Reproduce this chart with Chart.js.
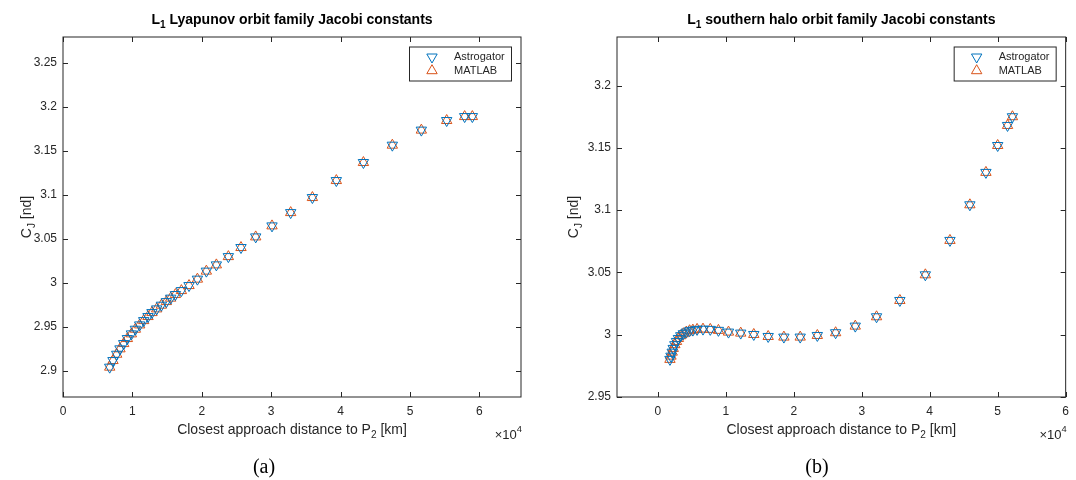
<!DOCTYPE html>
<html lang="en">
<head>
    <meta charset="UTF-8">
    <script src="https://cdn.jsdelivr.net/npm/chart.js@4.4.0/dist/chart.umd.min.js"></script>
    <title>Jacobi constants</title>
    <style>
        body { margin: 0; background: #fff; }
        canvas { position: absolute; top: 0; }
        #lyapChart { left: 0; }
        #haloChart { left: 540px; }
    </style>
</head>
<body>

    <canvas id="lyapChart" width="540" height="480"></canvas>
    <canvas id="haloChart" width="536" height="480"></canvas>

    <script>
        // ===== data (distances in km) =====
        const lyapDist = [6730, 7200, 7740, 8210, 8750, 9280, 9860, 10430, 11050, 11630, 12250, 12820, 13500, 14180, 14900, 15520, 16200, 17060, 18160, 19370, 20660, 22100, 23830, 25650, 27770, 30120, 32810, 35940, 39390, 43290, 47460, 51640, 55290, 57880, 58990];
        const lyapCjAstrogator = [2.9039, 2.9114, 2.9186, 2.9247, 2.9307, 2.9364, 2.9417, 2.9470, 2.9519, 2.9568, 2.9614, 2.9659, 2.9701, 2.9743, 2.9784, 2.9823, 2.9864, 2.9909, 2.9966, 3.0039, 3.0130, 3.0201, 3.0295, 3.0398, 3.0519, 3.0644, 3.0795, 3.0966, 3.1159, 3.1364, 3.1561, 3.1732, 3.1841, 3.1886, 3.1886];
        const lyapCjMatlab = [2.9039, 2.9114, 2.9186, 2.9247, 2.9307, 2.9364, 2.9417, 2.9470, 2.9519, 2.9568, 2.9614, 2.9659, 2.9701, 2.9743, 2.9784, 2.9823, 2.9864, 2.9909, 2.9966, 3.0039, 3.0130, 3.0201, 3.0295, 3.0398, 3.0519, 3.0644, 3.0795, 3.0966, 3.1159, 3.1364, 3.1561, 3.1732, 3.1841, 3.1886, 3.1886];

        const haloDist = [1790, 1940, 2120, 2270, 2510, 2750, 3030, 3380, 3760, 4190, 4680, 5160, 5780, 6650, 7720, 8920, 10400, 12200, 14120, 16240, 18550, 20950, 23470, 26160, 29050, 32180, 35610, 39360, 42980, 45910, 48270, 50000, 51450, 52170];
        const haloCjAstrogator = [2.9802, 2.9828, 2.9860, 2.9890, 2.9920, 2.9946, 2.9970, 2.9992, 3.0008, 3.0021, 3.0032, 3.0037, 3.0043, 3.0045, 3.0043, 3.0035, 3.0021, 3.0013, 3.0002, 2.9986, 2.9981, 2.9981, 2.9994, 3.0016, 3.0069, 3.0144, 3.0275, 3.0481, 3.0757, 3.1043, 3.1303, 3.1519, 3.1680, 3.1750];
        const haloCjMatlab = [2.9802, 2.9828, 2.9860, 2.9890, 2.9920, 2.9946, 2.9970, 2.9992, 3.0008, 3.0021, 3.0032, 3.0037, 3.0043, 3.0045, 3.0043, 3.0035, 3.0021, 3.0013, 3.0002, 2.9986, 2.9981, 2.9981, 2.9994, 3.0016, 3.0069, 3.0144, 3.0275, 3.0481, 3.0757, 3.1043, 3.1303, 3.1519, 3.1680, 3.1750];

        // tick labels (x in units of 1e4 km)
        const xTicks = [0, 1, 2, 3, 4, 5, 6];
        const lyapYTicks = [2.9, 2.95, 3, 3.05, 3.1, 3.15, 3.2, 3.25];
        const haloYTicks = [2.95, 3, 3.05, 3.1, 3.15, 3.2];

        const seriesNames = ['Astrogator', 'MATLAB'];

        const BLUE = '#0072BD';
        const ORANGE = '#D95319';
        const AXIS = '#262626';
        const SANS = '"Liberation Sans", Arial, sans-serif';

        // draws text made of pieces, some of them sub/superscript
        function richText(ctx, parts, x, y, size, weight, align) {
            let total = 0;
            const widths = parts.map(p => {
                ctx.font = weight + ' ' + (p[1] ? size * 0.72 : size) + 'px ' + SANS;
                const w = ctx.measureText(p[0]).width;
                total += w;
                return w;
            });
            let cx = x;
            if (align === 'center') cx = x - total / 2;
            if (align === 'right') cx = x - total;
            ctx.textAlign = 'left';
            ctx.textBaseline = 'middle';
            parts.forEach((p, i) => {
                ctx.font = weight + ' ' + (p[1] ? size * 0.72 : size) + 'px ' + SANS;
                let dy = 0;
                if (p[1] === 'sub') dy = size * 0.38;
                if (p[1] === 'sup') dy = -size * 0.42;
                ctx.fillText(p[0], cx, y + dy);
                cx += widths[i];
            });
        }

        // matlab style box, inward ticks, legend, labels
        const matlabBox = {
            id: 'matlabBox',
            afterDraw(chart, args, opts) {
                const ctx = chart.ctx;
                const a = chart.chartArea;
                const xs = chart.scales.x, ys = chart.scales.y;
                ctx.save();
                ctx.strokeStyle = AXIS;
                ctx.lineWidth = 1;
                ctx.strokeRect(a.left, a.top, a.right - a.left, a.bottom - a.top);

                ctx.beginPath();
                xs.ticks.forEach(t => {
                    const px = Math.round(xs.getPixelForValue(t.value)) + 0.5;
                    ctx.moveTo(px, a.bottom); ctx.lineTo(px, a.bottom - 5);
                    ctx.moveTo(px, a.top); ctx.lineTo(px, a.top + 5);
                });
                ys.ticks.forEach(t => {
                    const py = Math.round(ys.getPixelForValue(t.value)) + 0.5;
                    ctx.moveTo(a.left, py); ctx.lineTo(a.left + 5, py);
                    ctx.moveTo(a.right, py); ctx.lineTo(a.right - 5, py);
                });
                ctx.stroke();

                // legend
                const lw = 102, lh = 34;
                const lx = a.right - 10 - lw, ly = a.top + 9.5;
                ctx.fillStyle = '#fff';
                ctx.fillRect(lx, ly, lw, lh);
                ctx.strokeStyle = AXIS;
                ctx.strokeRect(lx + 0.5, ly + 0.5, lw, lh);
                chart.data.datasets.forEach((ds, i) => {
                    const ry = ly + 10.5 + i * 13.7;
                    ctx.strokeStyle = ds.borderColor;
                    ctx.fillStyle = 'rgba(0,0,0,0)';
                    ctx.lineWidth = 1;
                    Chart.helpers.drawPoint(ctx, {
                        pointStyle: 'triangle', radius: 6,
                        rotation: ds.pointRotation, borderWidth: 1
                    }, lx + 23, ry);
                    ctx.fillStyle = AXIS;
                    ctx.font = '11px ' + SANS;
                    ctx.textAlign = 'left';
                    ctx.textBaseline = 'middle';
                    ctx.fillText(ds.label, lx + 45, ry);
                });

                // title and axis labels
                const cxm = (a.left + a.right) / 2;
                ctx.fillStyle = '#000';
                richText(ctx, opts.title, cxm, 20, 14, 'bold', 'center');
                ctx.fillStyle = AXIS;
                richText(ctx, [['Closest approach distance to P'], ['2', 'sub'], [' [km]']], cxm, 430, 14, 'normal', 'center');
                richText(ctx, [['\u00d710'], ['4', 'sup']], a.right + 1, 435, 13, 'normal', 'right');

                ctx.save();
                ctx.translate(opts.ylabelX, (a.top + a.bottom) / 2);
                ctx.rotate(-Math.PI / 2);
                richText(ctx, [['C'], ['J', 'sub'], [' [nd]']], 0, 0, 14, 'normal', 'center');
                ctx.restore();

                // caption
                ctx.fillStyle = '#000';
                ctx.font = '20px "Liberation Serif", "Times New Roman", serif';
                ctx.textAlign = 'center';
                ctx.textBaseline = 'middle';
                ctx.fillText(opts.caption, opts.captionX, 468);
                ctx.restore();
            }
        };

        function makeChart(id, c) {
            const pts = arr => c.dist.map((d, i) => ({ x: d, y: arr[i] }));
            return new Chart(document.getElementById(id), {
                type: 'scatter',
                data: {
                    datasets: [
                        {
                            label: seriesNames[0], data: pts(c.astro),
                            pointStyle: 'triangle', pointRotation: 180, pointRadius: 6,
                            borderColor: BLUE, pointBorderColor: BLUE,
                            backgroundColor: 'rgba(0,0,0,0)', pointBackgroundColor: 'rgba(0,0,0,0)',
                            borderWidth: 1, pointBorderWidth: 1
                        },
                        {
                            label: seriesNames[1], data: pts(c.matlab),
                            pointStyle: 'triangle', pointRotation: 0, pointRadius: 6,
                            borderColor: ORANGE, pointBorderColor: ORANGE,
                            backgroundColor: 'rgba(0,0,0,0)', pointBackgroundColor: 'rgba(0,0,0,0)',
                            borderWidth: 1, pointBorderWidth: 1
                        }
                    ]
                },
                options: {
                    responsive: false,
                    animation: false,
                    layout: { padding: { left: 0, top: 37, right: c.padRight, bottom: 0 } },
                    plugins: {
                        legend: { display: false },
                        tooltip: { enabled: false },
                        matlabBox: { title: c.title, caption: c.caption, captionX: c.captionX, ylabelX: c.ylabelX }
                    },
                    scales: {
                        x: {
                            type: 'linear', min: c.xmin, max: c.xmax,
                            grid: { display: false, drawTicks: false },
                            border: { display: false },
                            ticks: { padding: 7, color: AXIS, font: { size: 12, family: SANS }, callback: v => String(v / 1e4) },
                            afterBuildTicks: s => { s.ticks = xTicks.map(v => ({ value: v * 1e4 })); },
                            afterFit: s => { s.height = 83; }
                        },
                        y: {
                            type: 'linear', min: c.ymin, max: c.ymax,
                            grid: { display: false, drawTicks: false },
                            border: { display: false },
                            ticks: { padding: 6, color: AXIS, font: { size: 12, family: SANS }, callback: v => String(+v.toFixed(2)) },
                            afterBuildTicks: s => { s.ticks = c.yTicks.map(v => ({ value: v })); },
                            afterFit: s => { s.width = c.yWidth; }
                        }
                    }
                },
                plugins: [matlabBox]
            });
        }

        makeChart('lyapChart', {
            dist: lyapDist, astro: lyapCjAstrogator, matlab: lyapCjMatlab,
            xmin: 0, xmax: 66000, ymin: 2.87, ymax: 3.279, yTicks: lyapYTicks,
            yWidth: 63, padRight: 19,
            title: [['L'], ['1', 'sub'], [' Lyapunov orbit family Jacobi constants']],
            caption: '(a)', captionX: 264, ylabelX: 27
        });

        makeChart('haloChart', {
            dist: haloDist, astro: haloCjAstrogator, matlab: haloCjMatlab,
            xmin: -6000, xmax: 60000, ymin: 2.95, ymax: 3.239, yTicks: haloYTicks,
            yWidth: 77, padRight: 2,
            title: [['L'], ['1', 'sub'], [' southern halo orbit family Jacobi constants']],
            caption: '(b)', captionX: 277, ylabelX: 34
        });
    </script>

</body>
</html>
